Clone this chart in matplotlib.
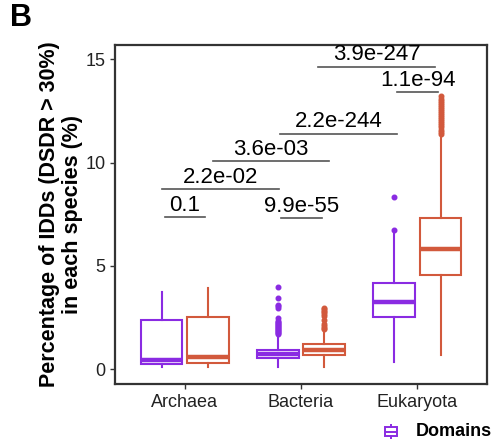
import matplotlib
matplotlib.use("Agg")
import matplotlib.pyplot as plt

plt.rcParams["font.family"] = ["Liberation Sans", "DejaVu Sans"]

# data
domains = ["Archaea", "Bacteria", "Eukaryota"]
purple = "#8A2BE2"
orange = "#D2593C"

# five-number summaries: whislo, q1, med, q3, whishi
purple_stats = [
    (0.11, 0.24, 0.44, 2.38, 3.72),
    (0.11, 0.53, 0.73, 0.92, 1.65),
    (0.37, 2.51, 3.27, 4.16, 6.63),
]
orange_stats = [
    (0.11, 0.31, 0.60, 2.55, 3.93),
    (0.11, 0.68, 0.94, 1.21, 1.90),
    (0.68, 4.56, 5.82, 7.31, 11.30),
]
purple_fliers = [
    [],
    [1.70, 1.75, 1.80, 1.85, 1.90, 1.95, 2.00, 2.05, 2.10, 2.15, 2.20,
     2.25, 2.30, 2.35, 2.48, 2.98, 3.05, 3.12, 3.43, 3.96],
    [6.76, 8.32],
]
orange_fliers = [
    [],
    [1.96, 2.02, 2.10, 2.20, 2.38, 2.59, 2.68, 2.75, 2.83, 2.91, 2.97],
    [11.40, 11.50, 11.60, 11.70, 11.80, 11.90, 12.00, 12.10, 12.20, 12.30,
     12.40, 12.50, 12.60, 12.70, 12.80, 12.90, 13.00, 13.10, 13.20],
]

# significance brackets: (x start, x end, y, label)
sig_x0 = [0.83, 0.80, 1.83, 1.24, 1.82, 2.83, 2.15]
sig_x1 = [1.17, 1.81, 2.18, 2.245, 2.83, 3.18, 3.15]
sig_y = [7.36, 8.70, 7.33, 10.06, 11.40, 13.40, 14.64]
sig_labels = ["0.1", "2.2e-02", "9.9e-55", "3.6e-03", "2.2e-244", "1.1e-94", "3.9e-247"]


def make_stats(stats, fliers):
    out = []
    for (lo, q1, med, q3, hi), fl in zip(stats, fliers):
        out.append({"whislo": lo, "q1": q1, "med": med, "q3": q3,
                    "whishi": hi, "fliers": fl})
    return out


def draw_boxes(ax, stats, positions, color, width=0.36):
    ax.bxp(
        stats,
        positions=positions,
        widths=width,
        showcaps=False,
        patch_artist=True,
        boxprops=dict(facecolor="white", edgecolor=color, linewidth=1.5),
        whiskerprops=dict(color=color, linewidth=1.5),
        medianprops=dict(color=color, linewidth=3.2, solid_capstyle="butt"),
        flierprops=dict(marker="o", markersize=3.3, markerfacecolor=color,
                        markeredgecolor=color, linestyle="none"),
    )


fig = plt.figure(figsize=(4.94, 4.44), dpi=100)
ax = fig.add_axes([115 / 494, 1 - 384 / 444, 372 / 494, 339 / 444])

centers = list(range(1, len(domains) + 1))
draw_boxes(ax, make_stats(purple_stats, purple_fliers), [c - 0.2 for c in centers], purple)
draw_boxes(ax, make_stats(orange_stats, orange_fliers), [c + 0.2 for c in centers], orange)

for x0, x1, y, lab in zip(sig_x0, sig_x1, sig_y, sig_labels):
    ax.plot([x0, x1], [y, y], color="#555555", linewidth=1.2)
    ax.text((x0 + x1) / 2, y + 0.06, lab, ha="center", va="bottom", fontsize=16)

ax.set_xlim(0.4, 3.6)
ax.set_ylim(-0.71, 15.69)
ax.set_xticks(centers)
ax.set_xticklabels(domains)
ax.set_yticks([0, 5, 10, 15])
ax.tick_params(axis="both", labelsize=13, length=3.5, width=1, color="#333333",
               labelcolor="#222222")
for spine in ax.spines.values():
    spine.set_linewidth(1.6)
    spine.set_color("#333333")

fig.text(61 / 494, 1 - 214 / 444,
         "Percentage of IDDs (DSDR > 30%)\nin each species (%)",
         rotation=90, ha="center", va="center", fontsize=15.5,
         fontweight="bold", multialignment="center", linespacing=1.15)

fig.text(10 / 494, 1 - 3 / 444, "B", ha="left", va="top", fontsize=22,
         fontweight="bold")

# legend key
key_ax = fig.add_axes([384 / 494, 1 - 439 / 444, 14 / 494, 15 / 444])
key_ax.bxp([{"whislo": 0.0, "q1": 0.22, "med": 0.5, "q3": 0.78, "whishi": 1.0,
             "fliers": []}],
           positions=[0.5], widths=0.9, showcaps=False, patch_artist=True,
           boxprops=dict(facecolor="white", edgecolor=purple, linewidth=1.4),
           whiskerprops=dict(color=purple, linewidth=1.4),
           medianprops=dict(color=purple, linewidth=1.4))
key_ax.set_xlim(0, 1)
key_ax.set_ylim(0, 1)
key_ax.axis("off")
fig.text(416 / 494, 1 - 431 / 444, "Domains", ha="left", va="center",
         fontsize=13, fontweight="bold")

fig.savefig("out.png", dpi=100)
